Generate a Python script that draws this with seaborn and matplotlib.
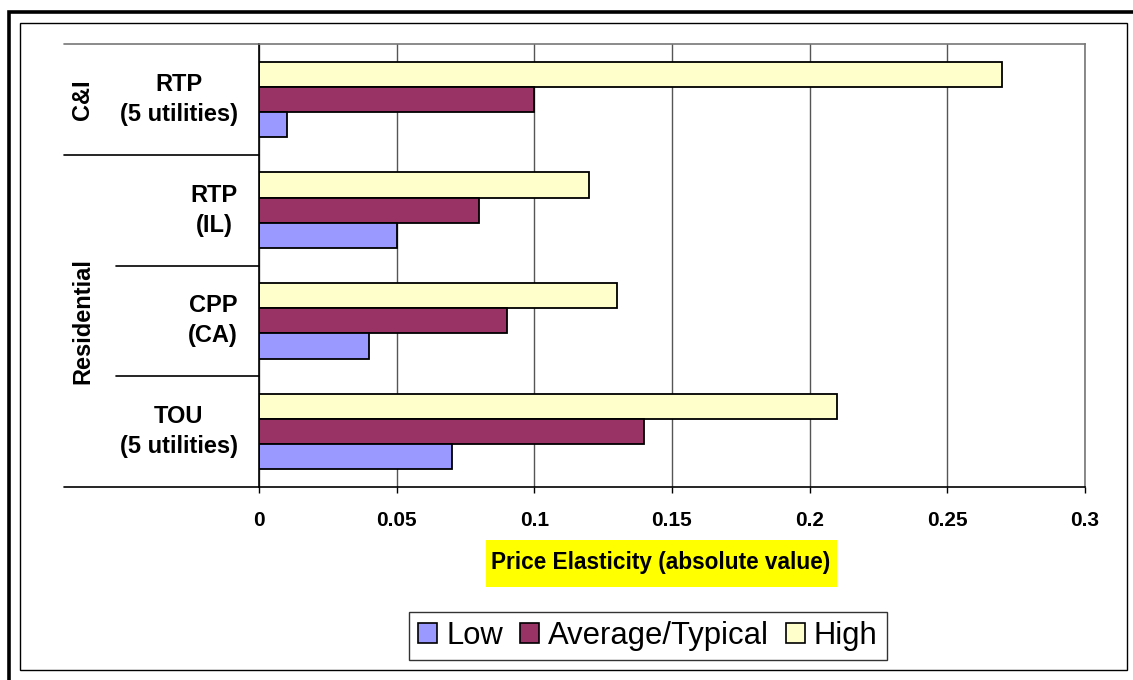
import matplotlib
matplotlib.use("Agg")
import matplotlib.pyplot as plt
from matplotlib.patches import Rectangle, Patch
from matplotlib.lines import Line2D
import matplotlib.transforms as mtransforms
import seaborn as sns
import pandas as pd

# Price elasticity ranges by rate design
programs = ["RTP\n(5 utilities)", "RTP\n(IL)", "CPP\n(CA)", "TOU\n(5 utilities)"]
low = [0.01, 0.05, 0.04, 0.07]
average = [0.10, 0.08, 0.09, 0.14]
high = [0.27, 0.12, 0.13, 0.21]
series_names = ["Low", "Average/Typical", "High"]
series_colors = ["#9999FF", "#993366", "#FFFFCC"]
x_ticks = [0, 0.05, 0.1, 0.15, 0.2, 0.25, 0.3]
x_tick_labels = ["0", "0.05", "0.1", "0.15", "0.2", "0.25", "0.3"]
group_labels = ["C&I", "Residential"]

df = pd.DataFrame({
    "program": programs * 3,
    "series": [series_names[0]] * 4 + [series_names[1]] * 4 + [series_names[2]] * 4,
    "value": low + average + high,
})

sns.set_theme(style="white")
plt.rcParams["font.family"] = ["Liberation Sans", "DejaVu Sans"]
plt.rcParams["text.color"] = "black"
plt.rcParams["xtick.color"] = "black"

W, H = 1133, 680
fig = plt.figure(figsize=(W / 100, H / 100), dpi=100)
fig.patch.set_facecolor("white")


def fx(px):
    return px / W


def fy(py):
    return 1 - py / H


ax = fig.add_axes([fx(259), fy(487), fx(1085) - fx(259), fy(44) - fy(487)])

palette = dict(zip(series_names, series_colors))
sns.barplot(data=df, y="program", x="value", hue="series", order=programs,
            hue_order=["High", "Average/Typical", "Low"], palette=palette,
            orient="h", width=0.68, edgecolor="black", linewidth=1.3,
            saturation=1, legend=False, ax=ax)

ax.set_xlim(0, 0.3)
ax.set_ylim(3.5, -0.5)
ax.set_xticks(x_ticks)
ax.set_xticklabels(x_tick_labels, fontsize=15, fontweight="bold", color="black")
ax.set_yticks([])
ax.set_xlabel("")
ax.set_ylabel("")
ax.tick_params(axis="x", direction="out", length=4, width=1, color="black", pad=13, bottom=True)
ax.grid(axis="x", color="#555555", linewidth=1)
ax.grid(axis="y", visible=False)
ax.set_axisbelow(True)
for side in ["left", "bottom"]:
    ax.spines[side].set_color("black")
    ax.spines[side].set_linewidth(1.2)
for side in ["top", "right"]:
    ax.spines[side].set_color("#777777")
    ax.spines[side].set_linewidth(1.2)

# category table lines to the left of the axis
trans = mtransforms.blended_transform_factory(ax.transAxes, ax.transData)
x_far = (64 - 259) / (1085 - 259)
x_near = (116 - 259) / (1085 - 259)
for yb, x0, col in [(-0.5, x_far, "#777777"), (0.5, x_far, "black"), (1.5, x_near, "black"),
                    (2.5, x_near, "black"), (3.5, x_far, "black")]:
    ax.add_line(Line2D([x0, 0], [yb, yb], transform=trans, color=col, linewidth=1.2, clip_on=False))

# program labels
x_lab = (238 - 259) / (1085 - 259)
for i, name in enumerate(programs):
    ax.text(x_lab, i, name, transform=trans, ha="right", va="center", multialignment="center",
            fontsize=17, fontweight="bold", linespacing=1.4, color="black")

# customer class labels
x_grp = (83 - 259) / (1085 - 259)
ax.text(x_grp, 0, group_labels[0], transform=trans, rotation=90, ha="center", va="center",
        fontsize=17, fontweight="bold", color="black")
ax.text(x_grp, 2, group_labels[1], transform=trans, rotation=90, ha="center", va="center",
        fontsize=17, fontweight="bold", color="black")

# axis title on a yellow panel
fig.patches.append(Rectangle((fx(486), fy(587)), fx(837) - fx(486), fy(540) - fy(587),
                             transform=fig.transFigure, facecolor="#FFFF00", edgecolor="none"))
fig.text(fx(661), fy(563), "Price Elasticity (absolute value)", ha="center", va="center",
         fontsize=16.3, fontweight="bold", color="black")

# legend
handles = [Patch(facecolor=c, edgecolor="black", linewidth=1.2) for c in series_colors]
leg = fig.legend(handles, series_names, loc="center", bbox_to_anchor=(fx(648), fy(636)),
                 ncol=3, fontsize=22.3, frameon=True, fancybox=False, edgecolor="black",
                 handlelength=0.6, handleheight=0.6, handletextpad=0.3, columnspacing=0.55,
                 borderpad=0.3, labelcolor="black")
leg.get_frame().set_linewidth(1.0)

# chart borders
fig.patches.append(Rectangle((fx(20), fy(670)), fx(1127) - fx(20), fy(23) - fy(670),
                             transform=fig.transFigure, facecolor="none", edgecolor="black",
                             linewidth=1.0))
fig.patches.append(Rectangle((fx(8.5), fy(700)), fx(1150) - fx(8.5), fy(11.5) - fy(700),
                             transform=fig.transFigure, facecolor="none", edgecolor="black",
                             linewidth=2.6))

fig.savefig("out.png", dpi=100)
